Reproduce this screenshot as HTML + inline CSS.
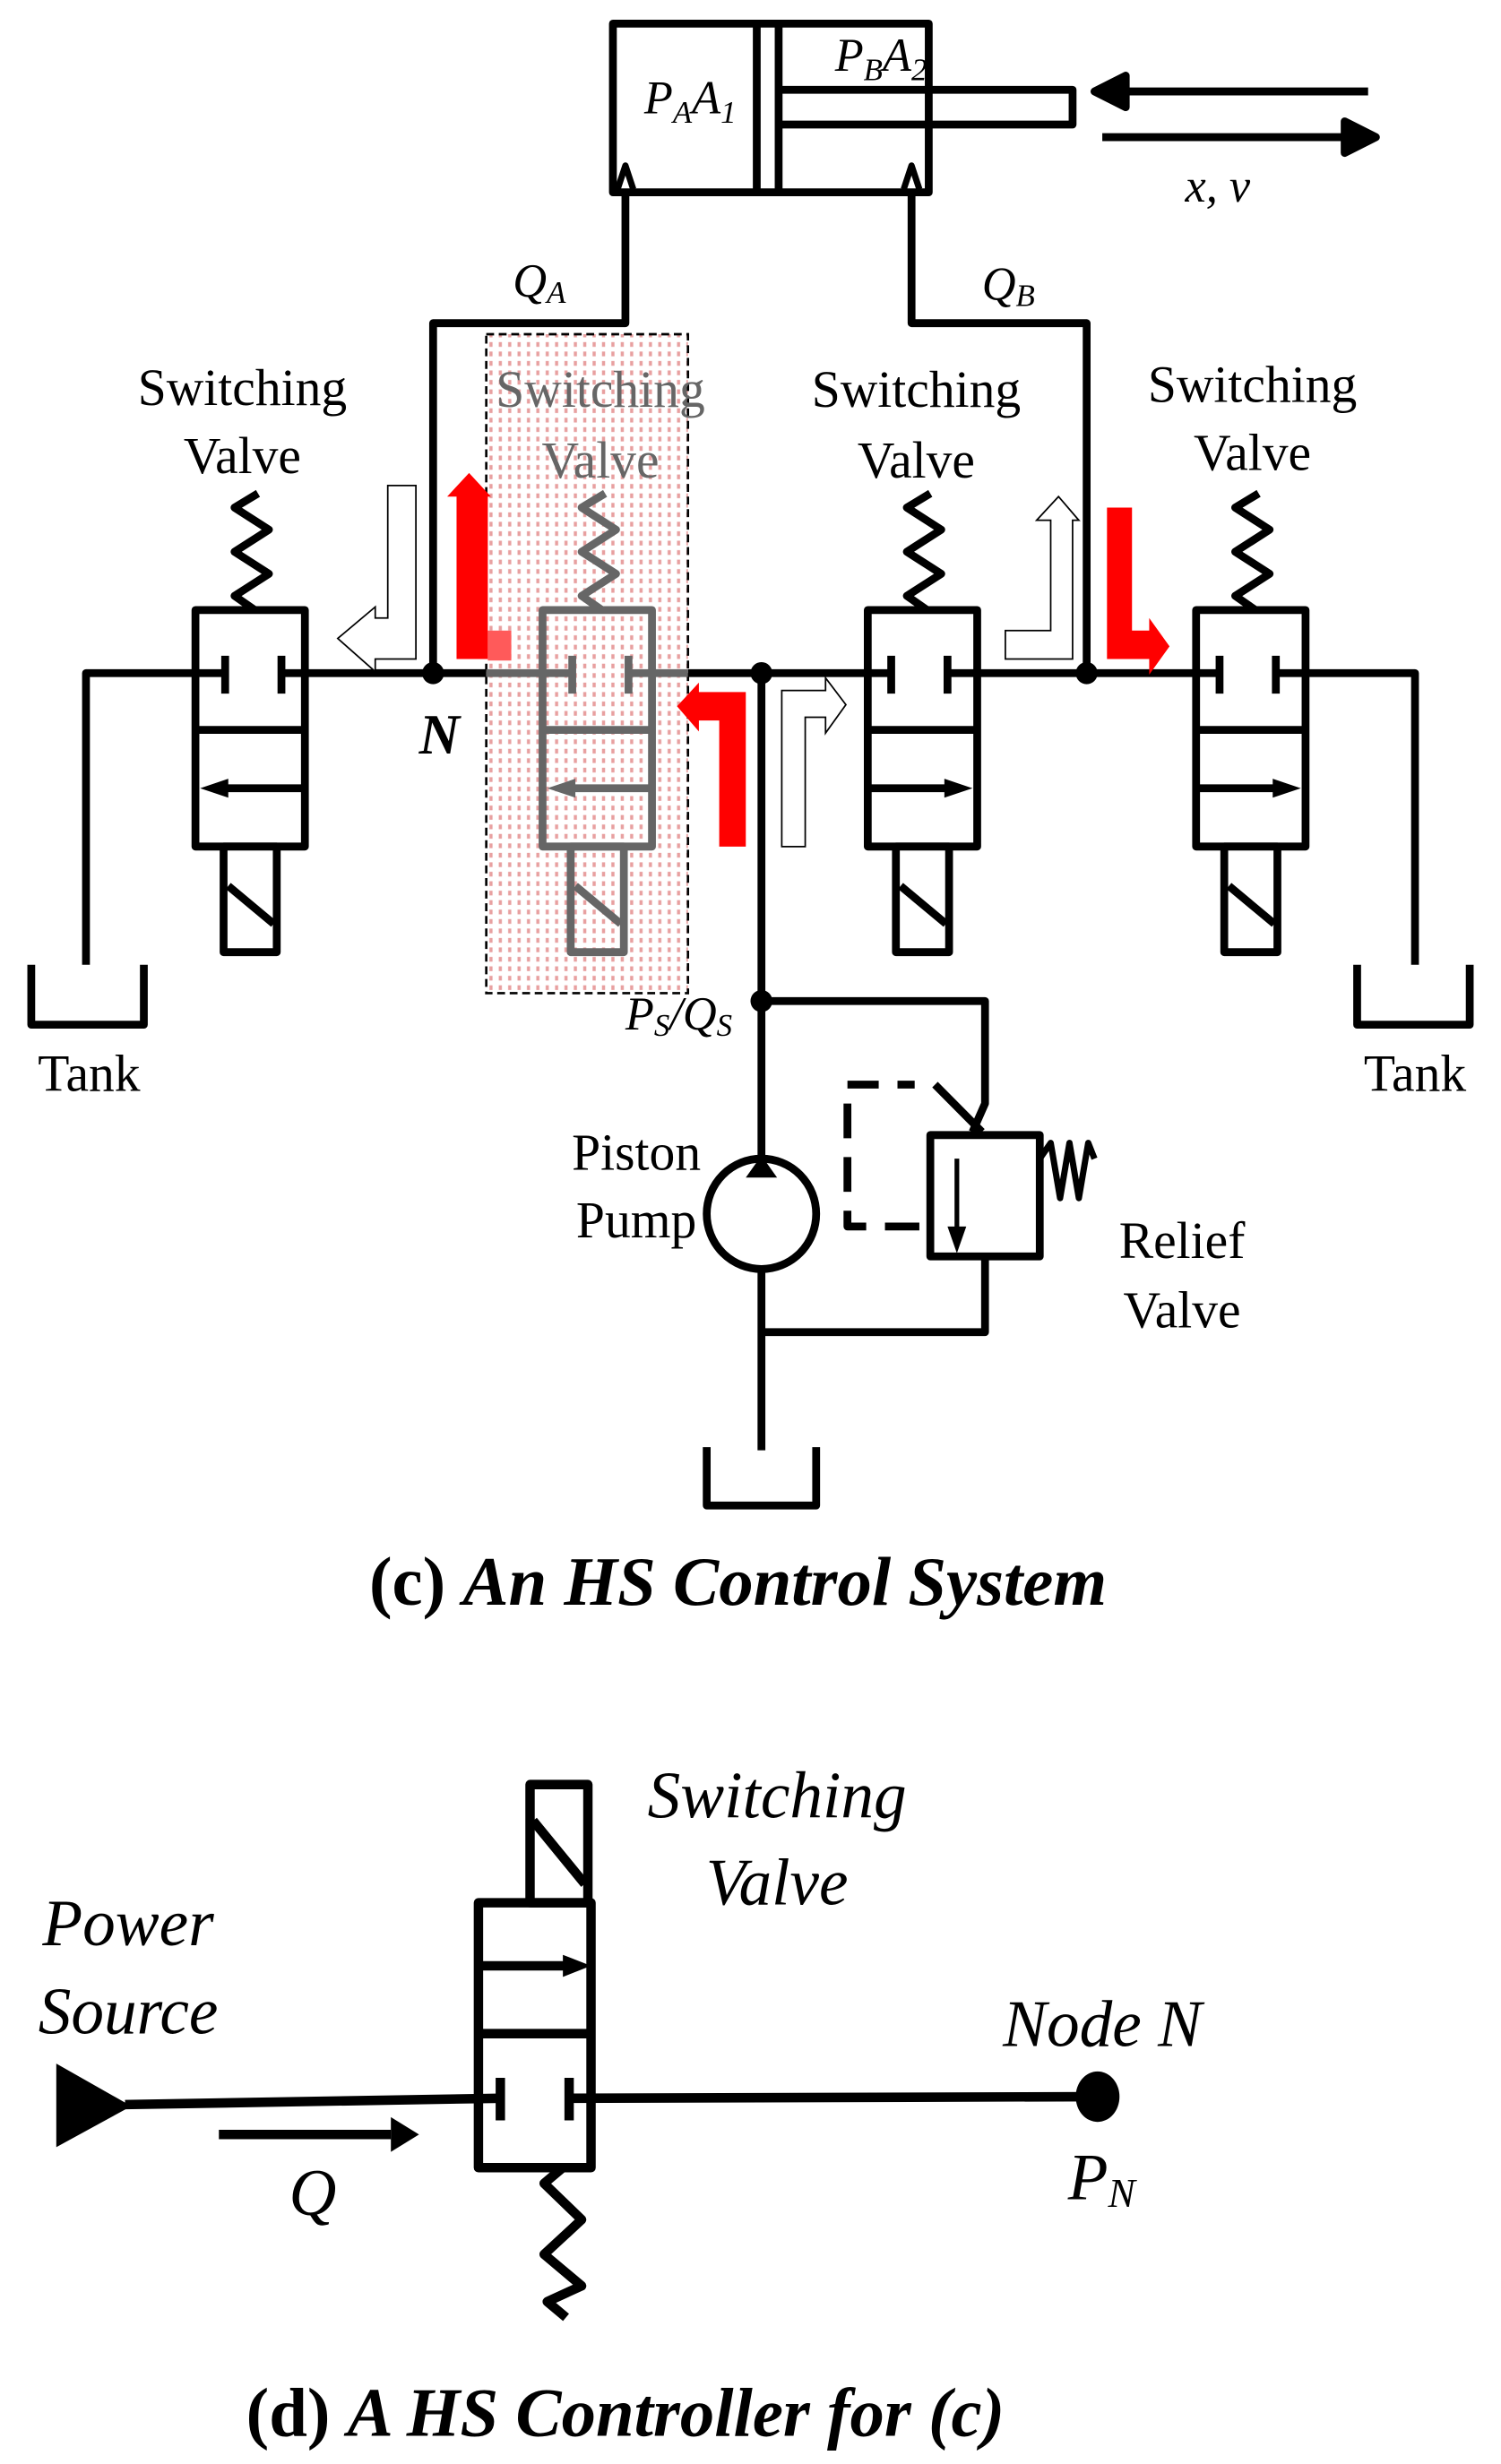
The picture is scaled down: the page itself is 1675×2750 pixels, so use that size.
<!DOCTYPE html>
<html><head><meta charset="utf-8"><style>html,body{margin:0;padding:0;background:#fff}svg{display:block}</style></head>
<body>
<svg width="1675" height="2750" viewBox="0 0 960 1563" preserveAspectRatio="none" xmlns="http://www.w3.org/2000/svg" style="font-family:'Liberation Serif',serif">
<defs>
<pattern id="dots" width="6" height="6" patternUnits="userSpaceOnUse"><rect width="6" height="6" fill="#fff"/><rect x="1" y="1" width="2" height="3" fill="#e8a0a0"/></pattern>
</defs>
<g stroke="#000" stroke-width="5" fill="none" stroke-linejoin="round">
<rect x="392" y="15" width="202" height="107"/>
<line x1="484" y1="15" x2="484" y2="122"/><line x1="498" y1="15" x2="498" y2="122"/>
<polyline points="498,57 686,57 686,79 498,79"/>
<polyline points="395,120 400,105 405,120" stroke-width="4"/>
<polyline points="578,120 583,105 588,120" stroke-width="4"/>
<line x1="720" y1="58" x2="875" y2="58"/>
<polygon points="700,58 720,48 720,68" fill="#000"/>
<line x1="705" y1="87" x2="860" y2="87"/>
<polygon points="880,87 860,77 860,97" fill="#000"/>
<polyline points="400,122 400,205 277,205 277,427"/>
<polyline points="583,122 583,205 695,205 695,427"/>
<polyline points="55,612 55,427 905,427 905,612"/>
<line x1="487" y1="427" x2="487" y2="920"/>
<polyline points="20,612 20,650 92,650 92,612"/>
<polyline points="868,612 868,650 940,650 940,612"/>
<polyline points="452,918 452,955 522,955 522,918"/>
<circle cx="487" cy="770" r="35" fill="#fff"/>
<polyline points="487,635 630,635 630,700 622,718"/>
<polyline points="630,797 630,845 487,845"/>
<rect x="595" y="720" width="70" height="77"/>
<line x1="612" y1="735" x2="612" y2="785" stroke-width="3"/>
<polyline points="665,735 672,725 678,760 684,725 690,760 696,725 700,735" stroke-width="4"/>
<polyline points="542,688 585,688" stroke-dasharray="20,12"/>
<line x1="598" y1="688" x2="628" y2="718"/>
<polyline points="542,700 542,778 595,778" stroke-dasharray="22,12"/>
</g>
<polygon points="612,795 606,778 618,778" fill="#000"/>
<polygon points="487,733 477,747 497,747" fill="#000"/>
<g fill="#000"><circle cx="277" cy="427" r="7"/><circle cx="487" cy="427" r="7"/><circle cx="695" cy="427" r="7"/><circle cx="487" cy="635" r="7"/></g>

<rect x="311" y="212" width="129" height="418" fill="url(#dots)" stroke="#000" stroke-width="1.5" stroke-dasharray="5,3"/>

<g stroke="#000" stroke-width="5" fill="none" stroke-linejoin="round">
<rect x="125" y="387" width="70" height="150" fill="#fff"/>
<line x1="125" y1="463" x2="195" y2="463"/>
<line x1="140" y1="500" x2="195" y2="500"/>
<rect x="143" y="537" width="34" height="67" fill="#fff"/>
<line x1="146" y1="562" x2="175" y2="586"/>
<line x1="144" y1="416" x2="144" y2="440"/><line x1="180" y1="416" x2="180" y2="440"/>
<line x1="125" y1="427" x2="144" y2="427"/><line x1="180" y1="427" x2="195" y2="427"/>
<polyline points="163,387 150,378 172,364 150,350 172,336 150,322 165,313"/>
</g>
<polygon points="128,500 146,494 146,506" fill="#000"/>

<g stroke="#666" stroke-width="5" fill="none" stroke-linejoin="round">
<rect x="347" y="387" width="70" height="150"/>
<line x1="347" y1="463" x2="417" y2="463"/>
<line x1="362" y1="500" x2="417" y2="500"/>
<rect x="365" y="537" width="34" height="67"/>
<line x1="368" y1="562" x2="397" y2="586"/>
<line x1="366" y1="416" x2="366" y2="440"/><line x1="402" y1="416" x2="402" y2="440"/>
<polyline points="385,387 372,378 394,364 372,350 394,336 372,322 387,313"/>
</g>
<polygon points="350,500 368,494 368,506" fill="#666"/>
<line x1="311" y1="427" x2="366" y2="427" stroke="#666" stroke-width="5"/>
<line x1="402" y1="427" x2="440" y2="427" stroke="#666" stroke-width="5"/>

<g stroke="#000" stroke-width="5" fill="none" stroke-linejoin="round">
<rect x="555" y="387" width="70" height="150" fill="#fff"/>
<line x1="555" y1="463" x2="625" y2="463"/>
<line x1="555" y1="500" x2="610" y2="500"/>
<rect x="573" y="537" width="34" height="67" fill="#fff"/>
<line x1="576" y1="562" x2="605" y2="586"/>
<line x1="570" y1="416" x2="570" y2="440"/><line x1="606" y1="416" x2="606" y2="440"/>
<line x1="555" y1="427" x2="570" y2="427"/><line x1="606" y1="427" x2="625" y2="427"/>
<polyline points="593,387 580,378 602,364 580,350 602,336 580,322 595,313"/>
<rect x="765" y="387" width="70" height="150" fill="#fff"/>
<line x1="765" y1="463" x2="835" y2="463"/>
<line x1="765" y1="500" x2="820" y2="500"/>
<rect x="783" y="537" width="34" height="67" fill="#fff"/>
<line x1="786" y1="562" x2="815" y2="586"/>
<line x1="780" y1="416" x2="780" y2="440"/><line x1="816" y1="416" x2="816" y2="440"/>
<line x1="765" y1="427" x2="780" y2="427"/><line x1="816" y1="427" x2="835" y2="427"/>
<polyline points="803,387 790,378 812,364 790,350 812,336 790,322 805,313"/>
</g>
<polygon points="622,500 604,494 604,506" fill="#000"/>
<polygon points="832,500 814,494 814,506" fill="#000"/>

<polygon points="292,418 292,315 286,315 300,300 314,315 312,315 312,418" fill="#f00"/>
<rect x="312" y="400" width="15" height="19" fill="#ff5a5a"/>
<polygon points="460,537 460,457 447,457 447,464 433,448 447,433 447,439 477,439 477,537" fill="#f00"/>
<polygon points="708,322 724,322 724,400 735,400 735,392 748,410 735,428 735,418 708,418" fill="#f00"/>
<g fill="#fff" stroke="#000" stroke-width="1">
<polygon points="248,308 266,308 266,418 240,418 240,426 216,405 240,385 240,392 248,392"/>
<polygon points="500,537 515,537 515,455 528,455 528,465 541,447 528,430 528,438 500,438"/>
<polygon points="672,330 663,330 677,315 690,330 686,330 686,418 643,418 643,400 672,400"/>
</g>

<g font-size="33" text-anchor="middle" fill="#000">
<text x="155" y="257">Switching</text><text x="155" y="300">Valve</text>
<text x="384" y="258" fill="#666">Switching</text><text x="384" y="303" fill="#666">Valve</text>
<text x="586" y="258">Switching</text><text x="586" y="303">Valve</text>
<text x="801" y="255">Switching</text><text x="801" y="298">Valve</text>
<text x="57" y="692">Tank</text><text x="905" y="692">Tank</text>
<text x="407" y="742">Piston</text><text x="407" y="785">Pump</text>
<text x="756" y="798">Relief</text><text x="756" y="842">Valve</text>
</g>
<g font-style="italic" font-size="30" fill="#000">
<text x="412" y="72">P<tspan font-size="20" dy="6">A</tspan><tspan dy="-6">A</tspan><tspan font-size="20" dy="6">1</tspan></text>
<text x="534" y="45">P<tspan font-size="20" dy="6">B</tspan><tspan dy="-6">A</tspan><tspan font-size="20" dy="6">2</tspan></text>
<text x="758" y="128">x, v</text>
<text x="328" y="188">Q<tspan font-size="20" dy="4">A</tspan></text>
<text x="628" y="190">Q<tspan font-size="20" dy="4">B</tspan></text>
<text x="400" y="653">P<tspan font-size="20" dy="4">S</tspan><tspan dy="-4">/Q</tspan><tspan font-size="20" dy="4">S</tspan></text>
<text x="268" y="478" font-weight="bold" font-size="36">N</text>
</g>
<text x="472" y="1018" text-anchor="middle" font-size="44" font-weight="bold">(c) <tspan font-style="italic">An HS Control System</tspan></text>

<g stroke="#000" stroke-width="6" fill="none" stroke-linejoin="round">
<rect x="306" y="1207" width="72" height="168"/>
<line x1="306" y1="1247" x2="370" y2="1247"/>
<line x1="306" y1="1290" x2="378" y2="1290"/>
<rect x="339" y="1132" width="37" height="75"/>
<line x1="341" y1="1155" x2="374" y2="1195"/>
<polyline points="360,1375 348,1385 372,1408 348,1430 372,1450 350,1460 362,1470"/>
<line x1="320" y1="1318" x2="320" y2="1345"/><line x1="364" y1="1318" x2="364" y2="1345"/>
<line x1="80" y1="1335" x2="320" y2="1331"/>
<line x1="364" y1="1331" x2="700" y2="1330"/>
<line x1="140" y1="1354" x2="250" y2="1354"/>
</g>
<polygon points="378,1247 360,1240 360,1254" fill="#000"/>
<polygon points="268,1354 250,1343 250,1365" fill="#000"/>
<polygon points="36,1309 84,1336 36,1362" fill="#000"/>
<ellipse cx="702" cy="1330" rx="14" ry="16" fill="#000"/>
<g font-style="italic" font-size="42" fill="#000">
<text x="497" y="1153" text-anchor="middle">Switching</text>
<text x="497" y="1208" text-anchor="middle">Valve</text>
<text x="82" y="1234" text-anchor="middle">Power</text>
<text x="82" y="1290" text-anchor="middle">Source</text>
<text x="705" y="1298" text-anchor="middle">Node N</text>
<text x="683" y="1395">P<tspan font-size="26" dy="5">N</tspan></text>
<text x="200" y="1405" text-anchor="middle">Q</text>
</g>
<text x="400" y="1545" text-anchor="middle" font-size="44" font-weight="bold">(d) <tspan font-style="italic">A HS Controller for (c)</tspan></text>
</svg>
</body></html>
